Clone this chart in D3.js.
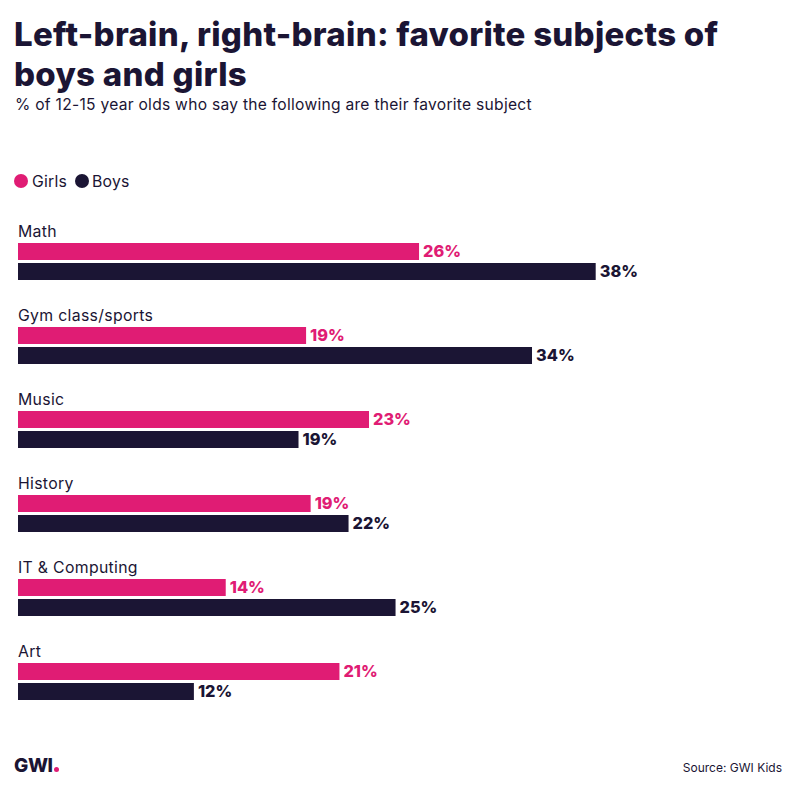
<!DOCTYPE html>
<html><head><meta charset="utf-8">
<script src="https://cdnjs.cloudflare.com/ajax/libs/d3/7.8.5/d3.min.js"></script>
<style>html,body{margin:0;padding:0;background:#fff}svg{display:block}text{font-family:Inter,sans-serif;fill:#1b1534}</style>
</head><body><svg id="c" width="796" height="790"></svg>
<script>
const categories=["Math","Gym class/sports","Music","History","IT & Computing","Art"];
const girls=[26.45,19.0,23.15,19.3,13.7,21.2];
const boys=[38.1,33.9,18.5,21.8,24.9,11.6];
const seriesNames=["Girls","Boys"];
const titleLines=["Left-brain, right-brain: favorite subjects of","boys and girls"];
const subtitle="% of 12-15 year olds who say the following are their favorite subject";
const source="Source: GWI Kids";
const pink="#e01c74",navy="#1b1534";
const svg=d3.select("#c");
const x=d3.scaleLinear().domain([0,40]).range([18,624.5]);
const y=d3.scaleBand().domain(categories).range([222,726]).paddingInner(0).paddingOuter(0);
const t=svg.append("g");
t.selectAll("text").data(titleLines).join("text").attr("x",14).attr("y",(d,i)=>46+i*40)
 .attr("font-size",33).attr("font-weight",800).attr("letter-spacing",0.27).text(d=>d);
svg.append("text").attr("x",15).attr("y",110).attr("font-size",15.6).attr("letter-spacing",0.27).text(subtitle);
const lx=[21,82];
const lg=svg.append("g").selectAll("g").data(seriesNames).join("g");
lg.append("circle").attr("cx",(d,i)=>lx[i]).attr("cy",181).attr("r",7).attr("fill",(d,i)=>i?navy:pink);
lg.append("text").attr("x",(d,i)=>lx[i]+(i?10:11)).attr("y",187).attr("font-size",15.8).attr("letter-spacing",0.2).text(d=>d);
const rows=svg.append("g").selectAll("g").data(categories).join("g").attr("transform",d=>`translate(0,${y(d)})`);
rows.append("text").attr("x",18).attr("y",14.5).attr("font-size",15.8).attr("letter-spacing",0.32).text(d=>d);
[[girls,pink,21],[boys,navy,41]].forEach(([vals,col,top])=>{
  rows.append("rect").attr("x",x(0)).attr("y",top).attr("height",17)
    .attr("width",(d,i)=>x(vals[i])-x(0)).attr("fill",col);
  rows.append("text").attr("x",(d,i)=>x(vals[i])+4).attr("y",top+14.3)
    .attr("font-size",16.3).attr("font-weight",800).style("fill",col).text((d,i)=>Math.round(vals[i])+"%");
});
svg.append("text").attr("x",14).attr("y",772).attr("font-size",19).attr("font-weight",800).attr("letter-spacing",-0.4).text("GWI");
svg.append("circle").attr("cx",56.5).attr("cy",769.5).attr("r",2.5).attr("fill",pink);
svg.append("text").attr("x",782).attr("y",772).attr("text-anchor","end").attr("font-size",12).text(source);
</script></body></html>
